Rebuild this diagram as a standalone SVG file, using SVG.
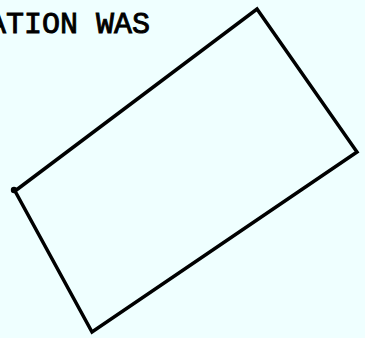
<svg xmlns="http://www.w3.org/2000/svg" width="365" height="338" viewBox="0 0 365 338">
<style>
.txt{font-family:"Liberation Mono","Courier New",monospace;font-size:30px;fill:#000;stroke:#000;stroke-width:0.9}
.shape{fill:none;stroke:#000;stroke-width:3.5;stroke-linejoin:miter}
</style>
<rect width="365" height="338" fill="#EFFFFF"/>
<text class="txt" x="-12" y="33">ATION WAS</text>
<g id="box">
<polygon class="shape" points="15,191 257,9 357,152 92,332"/>
<circle cx="14" cy="190" r="3.2" fill="#000"/>
</g>
</svg>
